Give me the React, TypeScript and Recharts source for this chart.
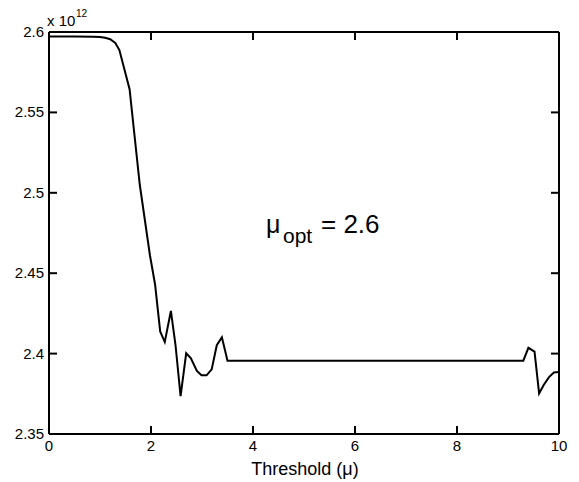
import React from 'react';
import { ComposedChart, Line, XAxis, YAxis, ReferenceLine } from 'recharts';

const thresholds = [0, 0.5, 0.87, 1.0, 1.1, 1.2, 1.3, 1.38, 1.58, 1.78, 1.98, 2.08, 2.18, 2.27, 2.39, 2.48, 2.58, 2.69, 2.78, 2.9, 2.99, 3.09, 3.19, 3.29, 3.39, 3.5, 9.3, 9.4, 9.52, 9.61, 9.7, 9.8, 9.9, 10];
const costValues = [2.5972, 2.5972, 2.5971, 2.5969, 2.5964, 2.5955, 2.5932, 2.5888, 2.5644, 2.505, 2.461, 2.443, 2.4138, 2.4072, 2.4265, 2.4055, 2.3735, 2.4002, 2.3972, 2.3892, 2.3865, 2.3865, 2.3902, 2.4052, 2.4102, 2.3956, 2.3956, 2.4036, 2.4012, 2.3752, 2.3805, 2.3852, 2.3882, 2.3885];
const xTicks = [0, 2, 4, 6, 8, 10];
const yTicks = [2.35, 2.4, 2.45, 2.5, 2.55, 2.6];
const yTickLabels = ['2.35', '2.4', '2.45', '2.5', '2.55', '2.6'];

const X_MIN = 0;
const X_MAX = 10;
const Y_MIN = 2.35;
const Y_MAX = 2.6;

const data = thresholds.map((t, i) => ({ t, v: costValues[i] }));

const FONT = '"Liberation Sans", Arial, Helvetica, sans-serif';
const TICK = 8;
// tick length of the top/right (unlabelled) axes, in data units (~8px)
const TOP_TICK_LEN = 0.005;
const RIGHT_TICK_LEN = 0.157;

const renderBottomTick = (props: any) => {
  const { x, y, payload, index } = props;
  const nx = Number(x);
  const ny = Number(y);
  return (
    <g key={`b-${index}`}>
      <line x1={nx} y1={ny} x2={nx} y2={ny - TICK} stroke="#000" strokeWidth={2} />
      <text x={nx} y={ny + 17} textAnchor="middle" fontFamily={FONT} fontSize={15} fill="#000">
        {String(payload.value)}
      </text>
    </g>
  );
};

const renderLeftTick = (props: any) => {
  const { x, y, payload, index } = props;
  const nx = Number(x);
  const ny = Number(y);
  const idx = yTicks.findIndex((v) => Math.abs(v - payload.value) < 1e-9);
  return (
    <g key={`l-${index}`}>
      <line x1={nx} y1={ny} x2={nx + TICK} y2={ny} stroke="#000" strokeWidth={2} />
      <text x={nx - 5} y={ny + 5} textAnchor="end" fontFamily={FONT} fontSize={15} fill="#000">
        {idx >= 0 ? yTickLabels[idx] : String(payload.value)}
      </text>
    </g>
  );
};

export default function App() {
  return (
    <div style={{ position: 'absolute', left: 0, top: 0, width: 579, height: 482, background: '#fff' }}>
      <svg width={579} height={482} style={{ position: 'absolute', left: 0, top: 0, pointerEvents: 'none' }}>
        <text x={47} y={26} fontFamily={FONT} fontSize={15} fill="#000">x 10</text>
        <text x={76} y={17} fontFamily={FONT} fontSize={10} fill="#000">12</text>
        <text x={305} y={475} textAnchor="middle" fontFamily={FONT} fontSize={18} fill="#000">Threshold (μ)</text>
        <text x={266} y={233} fontFamily={FONT} fontSize={25} fill="#000">μ</text>
        <text x={283} y={243} fontFamily={FONT} fontSize={21} fill="#000">opt</text>
        <text x={321} y={233} fontFamily={FONT} fontSize={26} fill="#000">= 2.6</text>
      </svg>
      <div style={{ position: 'absolute', left: 0, top: 0 }}>
        <ComposedChart width={579} height={482} data={data} margin={{ top: 32, right: 20, bottom: 47, left: 48 }}>
          <XAxis
            xAxisId="b"
            dataKey="t"
            type="number"
            domain={[X_MIN, X_MAX]}
            ticks={xTicks}
            height={1}
            tickSize={0}
            tickMargin={0}
            tickLine={false}
            tick={renderBottomTick}
            axisLine={{ stroke: '#000', strokeWidth: 2 }}
            interval={0}
          />
          <YAxis
            yAxisId="l"
            dataKey="v"
            type="number"
            domain={[Y_MIN, Y_MAX]}
            ticks={yTicks}
            width={1}
            tickSize={0}
            tickMargin={0}
            tickLine={false}
            tick={renderLeftTick}
            axisLine={{ stroke: '#000', strokeWidth: 2 }}
            interval={0}
          />
          <ReferenceLine xAxisId="b" yAxisId="l" y={Y_MAX} stroke="#000" strokeWidth={2} />
          <ReferenceLine xAxisId="b" yAxisId="l" x={X_MAX} stroke="#000" strokeWidth={2} />
          {xTicks.map((t) => (
            <ReferenceLine
              key={`tt-${t}`}
              xAxisId="b"
              yAxisId="l"
              segment={[{ x: t, y: Y_MAX }, { x: t, y: Y_MAX - TOP_TICK_LEN }]}
              stroke="#000"
              strokeWidth={2}
            />
          ))}
          {yTicks.map((v) => (
            <ReferenceLine
              key={`rt-${v}`}
              xAxisId="b"
              yAxisId="l"
              segment={[{ x: X_MAX, y: v }, { x: X_MAX - RIGHT_TICK_LEN, y: v }]}
              stroke="#000"
              strokeWidth={2}
            />
          ))}
          <Line
            xAxisId="b"
            yAxisId="l"
            type="linear"
            dataKey="v"
            stroke="#000"
            strokeWidth={2}
            dot={false}
            isAnimationActive={false}
          />
        </ComposedChart>
      </div>
    </div>
  );
}
